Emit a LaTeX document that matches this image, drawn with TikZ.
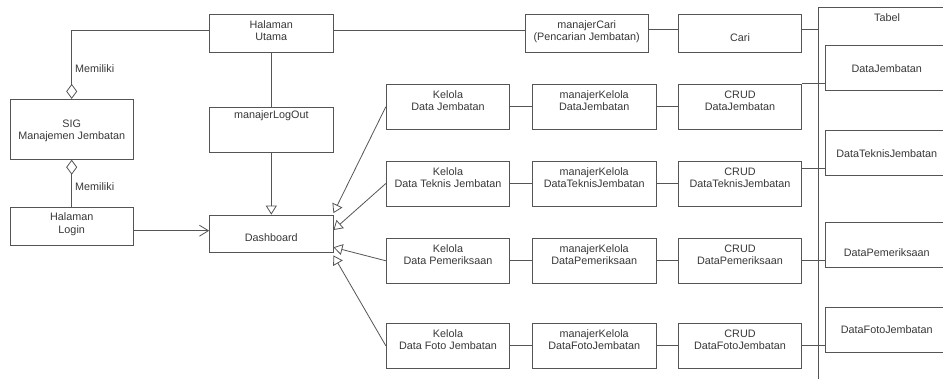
\documentclass[tikz,border=0pt]{standalone}
\usepackage{fontspec}
\setmainfont{Liberation Sans}
\usetikzlibrary{arrows.meta}
\definecolor{lc}{HTML}{555555}
\definecolor{tc}{HTML}{383838}
\newcommand\bt[2]{\raisebox{#1}[0pt][0pt]{\begin{tabular}{@{}c@{}}#2\end{tabular}}}
\begin{document}
\begin{tikzpicture}[x=1pt,y=-1pt,
  every node/.style={font=\fontsize{10.8}{12.5}\selectfont, text=tc},
  box/.style={draw=lc, line width=0.8pt, fill=white, minimum width=123.5pt, inner sep=0pt},
  lk/.style={draw=lc, line width=0.8pt},
  diam/.style={lk, -{Diamond[open, length=15pt, width=11pt]}},
  tri/.style={lk, -{Triangle[open, length=9pt, width=11pt]}},
  barb/.style={lk, -{Straight Barb[length=9pt, width=11pt]}},
  rowbox/.style={box, minimum height=45pt},
  tbox/.style={box, minimum height=45pt}
]
\useasboundingbox (0,0) rectangle (943,379);
\fill[white] (0,0) rectangle (943,379);
\clip (0,0) rectangle (943,379);

% Tabel frame
\node[draw=lc, line width=0.8pt, anchor=north west, minimum width=200pt, minimum height=400pt, inner sep=0pt] (tabel) at (818,7) {};
\node[inner sep=0pt] (tabeltxt) at (887,17.5) {Tabel};

% left column
\node[box, minimum height=38pt] (hu) at (271.3,33.7) {\bt{-1.1pt}{Halaman\\Utama}};
\node[box, minimum height=60pt] (sig) at (71.7,129.3) {\bt{-4.4pt}{SIG\\Manajemen Jembatan}};
\node[box, minimum height=37.7pt] (login) at (71.7,226.2) {\bt{-1.1pt}{Halaman\\Login}};
\node[box, minimum height=45.4pt] (mlo) at (271.3,130) {\bt{10.9pt}{manajerLogOut}};
\node[box, minimum height=37.3pt] (dash) at (271.3,233.7) {\bt{-7.6pt}{Dashboard}};

% top row
\node[box, minimum height=38pt] (mc) at (586.7,33.7) {\bt{-1.1pt}{manajerCari\\(Pencarian Jembatan)}};
\node[box, minimum height=38pt] (cari) at (740,33.7) {\bt{-7.7pt}{Cari}};

% rows
\node[rowbox] (k1) at (448,106.7) {\bt{1.9pt}{Kelola\\Data Jembatan}};
\node[rowbox] (k2) at (448,183.5) {\bt{1.9pt}{Kelola\\Data Teknis Jembatan}};
\node[rowbox] (k3) at (448,260.8) {\bt{1.9pt}{Kelola\\Data Pemeriksaan}};
\node[rowbox] (k4) at (448,345.8) {\bt{1.9pt}{Kelola\\Data Foto Jembatan}};

\node[rowbox] (mk1) at (594.2,106.7) {\bt{1.9pt}{manajerKelola\\DataJembatan}};
\node[rowbox] (mk2) at (594.2,183.5) {\bt{1.9pt}{manajerKelola\\DataTeknisJembatan}};
\node[rowbox] (mk3) at (594.2,260.8) {\bt{1.9pt}{manajerKelola\\DataPemeriksaan}};
\node[rowbox] (mk4) at (594.2,345.8) {\bt{1.9pt}{manajerKelola\\DataFotoJembatan}};

\node[rowbox] (c1) at (740,106.7) {\bt{1.9pt}{CRUD\\DataJembatan}};
\node[rowbox] (c2) at (740,183.5) {\bt{1.9pt}{CRUD\\DataTeknisJembatan}};
\node[rowbox] (c3) at (740,260.8) {\bt{1.9pt}{CRUD\\DataPemeriksaan}};
\node[rowbox] (c4) at (740,345.8) {\bt{1.9pt}{CRUD\\DataFotoJembatan}};

% table boxes
\node[tbox] (t1) at (886.8,68.2) {\bt{-4.1pt}{DataJembatan}};
\node[tbox] (t2) at (886.8,153.2) {\bt{-4.1pt}{DataTeknisJembatan}};
\node[tbox] (t3) at (886.8,245.2) {\bt{-11.6pt}{DataPemeriksaan}};
\node[tbox] (t4) at (886.8,330) {\bt{-4.1pt}{DataFotoJembatan}};

% labels
\node[inner sep=0pt, anchor=west] (mem1) at (75,68.3) {Memiliki};
\node[inner sep=0pt, anchor=west] (mem2) at (75,186.7) {Memiliki};

% connectors
\draw[diam] ([yshift=3.7pt]hu.west) -| (sig.north);
\draw[diam] (login.north) -- (sig.south);
\draw[lk] (hu.south) -- (mlo.north);
\draw[tri] (mlo.south) -- (dash.north);
\draw[barb] ([yshift=-4.5pt]login.east) -- ([yshift=-4.5pt]login.east -| dash.west);

\draw[tri] (k1.west) -- ([yshift=1.5pt]dash.north east);
\draw[tri] (k2.west) -- ([yshift=3.7pt]dash.east);
\draw[tri] (k3.west) -- ([yshift=-13.6pt]dash.east);
\draw[tri] (k4.west) -- ([yshift=-2.7pt]dash.south east);

\draw[lk] ([yshift=3.7pt]hu.east) -- ([yshift=3.7pt]hu.east -| mc.west);
\draw[lk] ([yshift=4pt]mc.east) -- ([yshift=4pt]mc.east -| cari.west);
\draw[lk] ([yshift=4pt]cari.east) -- ([yshift=4pt]cari.east -| tabel.west);

\draw[lk] (k1.east) -- (mk1.west) (mk1.east) -- (c1.west);
\draw[lk] (k2.east) -- (mk2.west) (mk2.east) -- (c2.west);
\draw[lk] (k3.east) -- (mk3.west) (mk3.east) -- (c3.west);
\draw[lk] (k4.east) -- (mk4.west) (mk4.east) -- (c4.west);

\draw[lk] (c1.north east) -- (c1.north east -| t1.west);
\draw[lk] ([yshift=-7.6pt]c2.north east) -- ([yshift=-7.6pt]c2.north east -| t2.west);
\draw[lk] (c3.east) -- (c3.east -| t3.west);
\draw[lk] (c4.east) -- (c4.east -| t4.west);
\end{tikzpicture}
\end{document}
